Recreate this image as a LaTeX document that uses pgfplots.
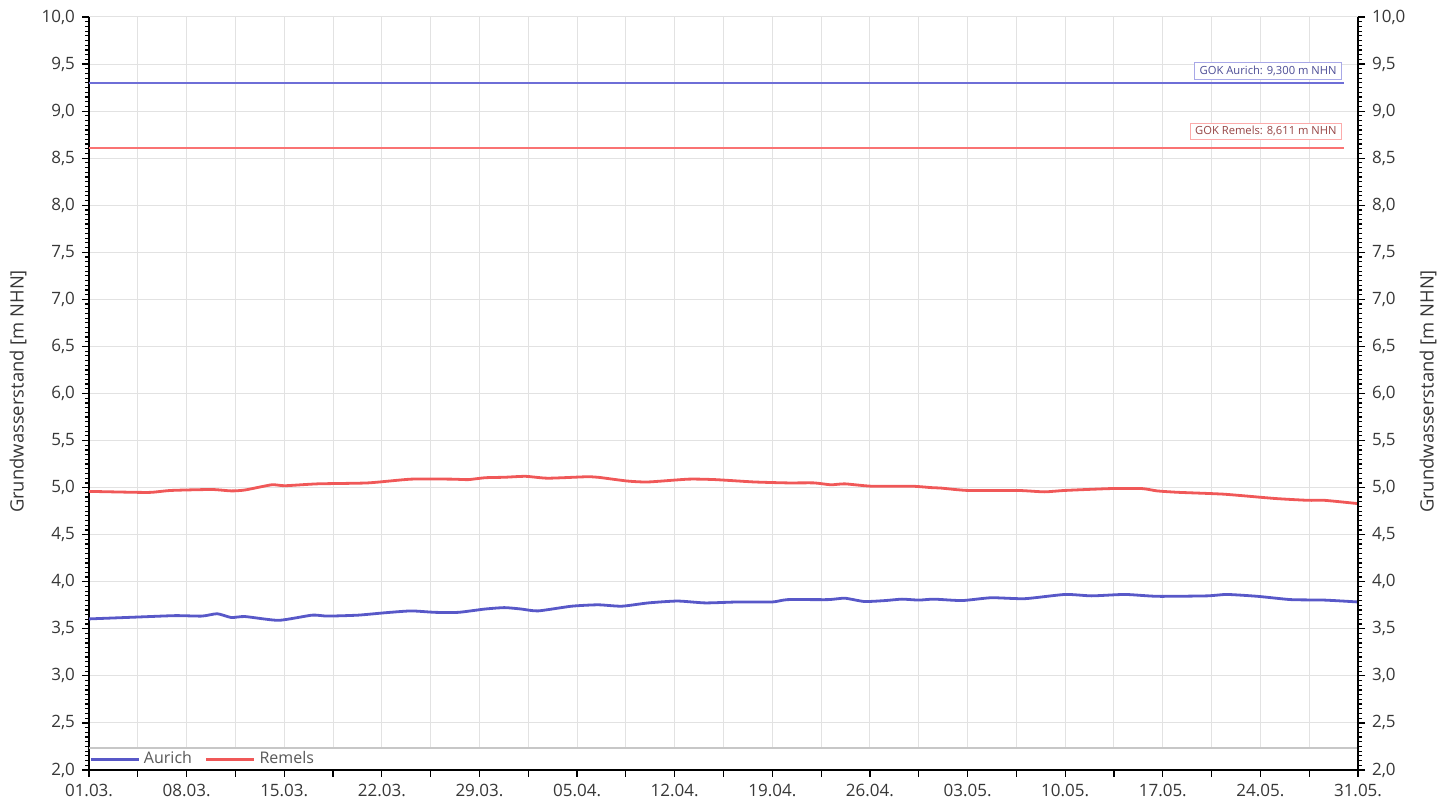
\documentclass[border=0pt]{standalone}
\usepackage{pgfplots}
\pgfplotsset{compat=1.18}
\usepackage{fontspec}
\setmainfont{Open Sans}

\definecolor{aurich}{RGB}{88,88,200}
\definecolor{remels}{RGB}{240,88,88}
\definecolor{gokaurich}{RGB}{110,110,215}
\definecolor{gokremels}{RGB}{250,115,115}
\definecolor{ticktext}{RGB}{55,55,55}
\definecolor{gridgray}{RGB}{226,226,226}

\pgfplotsset{
  gwbase/.style={
    width=634.5pt, height=376.5pt, scale only axis,
    xmin=0, xmax=91, ymin=2, ymax=10,
    ytick={2,2.5,3,3.5,4,4.5,5,5.5,6,6.5,7,7.5,8,8.5,9,9.5,10},
    minor y tick num=9,
    tick align=outside,
    major tick length=3.5pt, minor tick length=2pt,
    tick style={black, line width=0.6pt},
    axis line style={-, black, line width=1.1pt},
    ticklabel style={font=\fontsize{8.5}{10}\selectfont, text=ticktext},
    /pgf/number format/.cd, fixed, fixed zerofill, precision=1, use comma, assume math mode=true,
  },
}

\begin{document}
\begin{tikzpicture}
\begin{axis}[
  gwbase, name=ax,
  axis x line*=bottom, axis y line*=left,
  xtick={0,3.5,7,10.5,14,17.5,21,24.5,28,31.5,35,38.5,42,45.5,49,52.5,56,59.5,63,66.5,70,73.5,77,80.5,84,87.5,91},
  xticklabels={01.03.,,08.03.,,15.03.,,22.03.,,29.03.,,05.04.,,12.04.,,19.04.,,26.04.,,03.05.,,10.05.,,17.05.,,24.05.,,31.05.},
  xmajorgrids, ymajorgrids,
  major grid style={gridgray, line width=0.5pt},
  legend style={at={(rel axis cs:0,0)}, anchor=south west, draw=none, fill=none,
    legend columns=-1, font=\fontsize{8}{9.5}\selectfont, text=black!65,
    inner sep=0pt, yshift=-0.6pt,
    /tikz/every even column/.append style={column sep=4.5pt}},
  legend image code/.code={\draw[#1, line width=1.3pt] (0pt,0pt) -- (24pt,0pt);},
]
% legend strip
\fill[white] (axis cs:0.08,2.012) rectangle (axis cs:90.92,2.234);
\draw[black!22, line width=0.8pt] (axis cs:0,2.234) -- (axis cs:91,2.234);

% GOK reference lines
\addplot[gokaurich, line width=1pt, forget plot] coordinates {(0,9.300)(90,9.300)};
\addplot[gokremels, line width=1pt, forget plot] coordinates {(0,8.611)(90,8.611)};
\node[draw=gokaurich!60, fill=white, text=gokaurich!70!black, anchor=south east,
  font=\fontsize{5.6}{6.5}\selectfont, inner xsep=2.5pt, inner ysep=1.6pt]
  at (axis cs:89.85,9.338) {GOK Aurich: 9,300 m NHN};
\node[draw=gokremels!60, fill=white, text=gokremels!60!black, anchor=south east,
  font=\fontsize{5.6}{6.5}\selectfont, inner xsep=2.5pt, inner ysep=1.6pt]
  at (axis cs:89.85,8.693) {GOK Remels: 8,611 m NHN};

% Aurich
\addplot[aurich, line width=1.4pt, smooth, tension=0.35] coordinates {
(0,3.605)(3.5,3.625)(6.2,3.64)(8.1,3.635)(9.2,3.66)(10.2,3.62)(11.2,3.63)
(13.6,3.59)(16,3.645)(17.1,3.635)(19.3,3.645)(21.2,3.67)(23.1,3.69)(24.8,3.675)
(26.5,3.675)(28.4,3.71)(29.8,3.725)(31,3.71)(32.2,3.69)(34.6,3.74)(36.5,3.755)
(38.2,3.74)(40.1,3.775)(42.2,3.795)(44.2,3.775)(46.5,3.785)(49,3.785)(50.1,3.81)
(53,3.81)(54.2,3.825)(55.6,3.79)(57.1,3.80)(58.3,3.815)(59.5,3.805)(60.6,3.815)
(62.6,3.80)(64.7,3.83)(67.1,3.82)(70,3.865)(71.9,3.85)(74.3,3.865)(76.6,3.845)
(80.2,3.85)(81.6,3.865)(83.8,3.845)(86.2,3.81)(88.6,3.805)(91,3.785)
};
\addlegendentry{Aurich}
% Remels
\addplot[remels, line width=1.4pt, smooth, tension=0.35] coordinates {
(0,4.96)(3.3,4.95)(4.5,4.95)(5.9,4.97)(8.8,4.98)(10.2,4.965)(11.2,4.975)
(13.1,5.03)(14.05,5.02)(16.4,5.04)(20,5.05)(23.1,5.09)(26,5.09)(27.2,5.085)
(28.4,5.105)(29.8,5.11)(31.3,5.12)(32.9,5.10)(35.6,5.115)(36.5,5.11)(38.6,5.07)
(40.1,5.06)(43,5.09)(44.9,5.085)(47.7,5.06)(50.1,5.05)(52,5.05)(53.2,5.03)
(54.2,5.04)(56.1,5.015)(59,5.015)(60.4,5.0)(61.1,4.995)(63,4.97)(66.6,4.97)
(68.5,4.955)(70,4.97)(73.3,4.99)(75.5,4.99)(76.6,4.965)(78.1,4.95)(81.4,4.93)
(85,4.885)(87.4,4.865)(88.6,4.865)(91,4.83)
};
\addlegendentry{Remels}
\end{axis}

% right-hand axis
\begin{axis}[
  gwbase,
  axis x line=none, axis y line*=right,
  yticklabel pos=right,
]
\end{axis}

\node[rotate=90, font=\fontsize{9.2}{11}\selectfont, text=ticktext]
  at ([xshift=-35.5pt,yshift=1pt]ax.west) {Grundwasserstand [m NHN]};
\node[rotate=90, font=\fontsize{9.2}{11}\selectfont, text=ticktext]
  at ([xshift=35pt,yshift=1pt]ax.east) {Grundwasserstand [m NHN]};

\pgfresetboundingbox
\path[use as bounding box] ([shift={(-44.5pt,-17pt)}]ax.south west) rectangle ([shift={(43.5pt,8.5pt)}]ax.north east);
\end{tikzpicture}
\end{document}
